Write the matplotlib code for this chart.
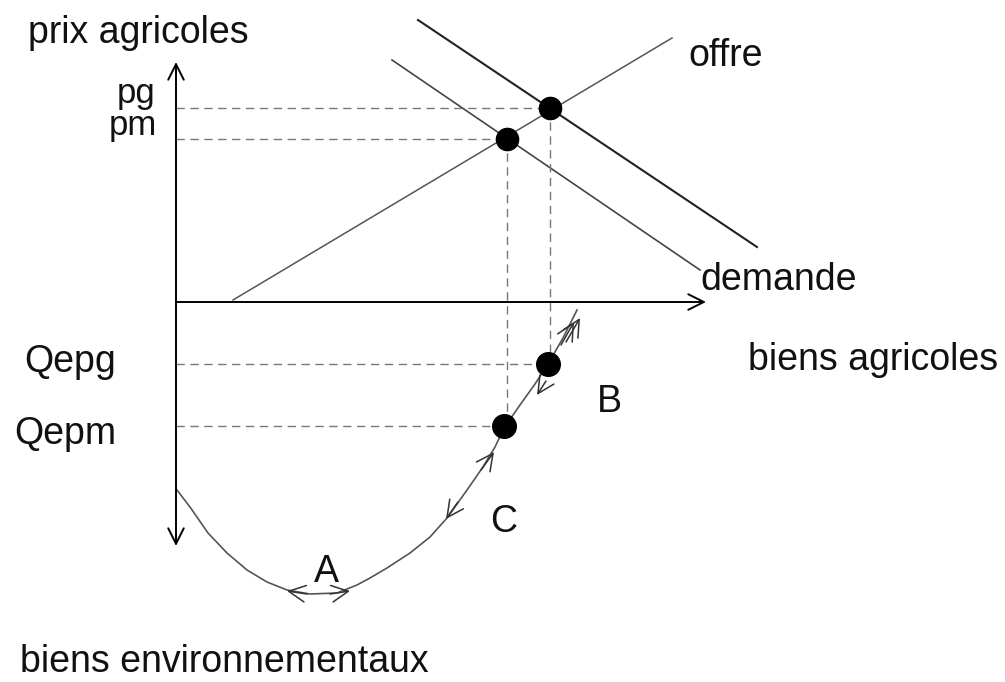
import matplotlib.pyplot as plt

offre_x = [233, 672]
offre_y = [300, 38]
demande_m_x = [392, 700]
demande_m_y = [60, 270]
demande_g_x = [418, 757]
demande_g_y = [20, 247]

eq_x = [507, 550]          # équilibres pm, pg
eq_y = [139, 108]
qe_x = [504, 548]          # Qepm, Qepg
qe_y = [426, 364]

courbe_x = [177, 190, 208, 227, 247, 267, 287, 310, 337, 357, 370, 387,
            410, 430, 447, 467, 483, 495, 504, 520, 535, 548, 563, 577]
courbe_y = [490, 507, 533, 553, 570, 582, 590, 594, 593, 585, 578, 568,
            553, 537, 518, 490, 467, 447, 428, 405, 384, 364, 338, 310]

axe_v = (176, 62, 546)     # x, haut, bas
axe_h = (302, 176, 706)    # y, gauche, droite

# flèches sur la courbe : (pointe, origine)
fleches = [((287, 591), (307, 594)),
           ((350, 591), (330, 594)),
           ((494, 452), (481, 470)),
           ((446, 519), (458, 502)),
           ((580, 318), (566, 342)),
           ((574, 322), (561, 345)),
           ((537, 395), (546, 381))]

labels = [("prix agricoles", 28, 43, 'left', 27),
          ("offre", 688, 66, 'left', 27),
          ("pg", 155, 103, 'right', 25),
          ("pm", 157, 135, 'right', 25),
          ("demande", 700, 290, 'left', 27),
          ("biens agricoles", 748, 370, 'left', 27),
          ("Qepg", 24, 372, 'left', 27),
          ("Qepm", 14, 444, 'left', 27),
          ("B", 597, 412, 'left', 27),
          ("C", 490, 532, 'left', 27),
          ("A", 314, 582, 'left', 27),
          ("biens environnementaux", 20, 672, 'left', 27)]

plt.rcParams['font.family'] = ['Liberation Sans', 'DejaVu Sans']

fig = plt.figure(figsize=(10.05, 6.82), dpi=100)
ax = fig.add_axes([0, 0, 1, 1])
ax.set_xlim(0, 1005)
ax.set_ylim(682, 0)
ax.axis('off')

# axes
x0, yt, yb = axe_v
ax.annotate('', xy=(x0, yt), xytext=(x0, yb),
            arrowprops=dict(arrowstyle='<->', color='black', lw=1.4,
                            mutation_scale=28, shrinkA=0, shrinkB=0))
y0, xl, xr = axe_h
ax.annotate('', xy=(xr, y0), xytext=(xl, y0),
            arrowprops=dict(arrowstyle='->', color='black', lw=1.4,
                            mutation_scale=28, shrinkA=0, shrinkB=0))

# offre et demandes
ax.plot(offre_x, offre_y, color='#555555', lw=1.1)
ax.plot(demande_m_x, demande_m_y, color='#444444', lw=1.2)
ax.plot(demande_g_x, demande_g_y, color='#222222', lw=1.5)

# pointillés
dash = dict(color='#777777', lw=1.0, dashes=(6, 4))
for x, y in zip(eq_x, eq_y):
    ax.plot([x0, x], [y, y], **dash)
for xe, ye, yq in zip(eq_x, eq_y, qe_y):
    ax.plot([xe, xe], [ye, yq], **dash)
for x, y in zip(qe_x, qe_y):
    ax.plot([x0, x], [y, y], **dash)

# courbe biens agricoles / environnementaux
ax.plot(courbe_x, courbe_y, color='#555555', lw=1.2)
for tip, tail in fleches:
    ax.annotate('', xy=tip, xytext=tail,
                arrowprops=dict(arrowstyle='->', color='#333333', lw=1.1,
                                mutation_scale=30, shrinkA=0, shrinkB=0))

# points d'équilibre
ax.plot(eq_x, eq_y, 'o', color='black', markersize=16)
ax.plot(qe_x, qe_y, 'o', color='black', markersize=17)

for txt, x, y, ha, fs in labels:
    ax.text(x, y, txt, fontsize=fs, ha=ha, va='baseline', color='#111111')

fig.savefig('out.png', dpi=100)
